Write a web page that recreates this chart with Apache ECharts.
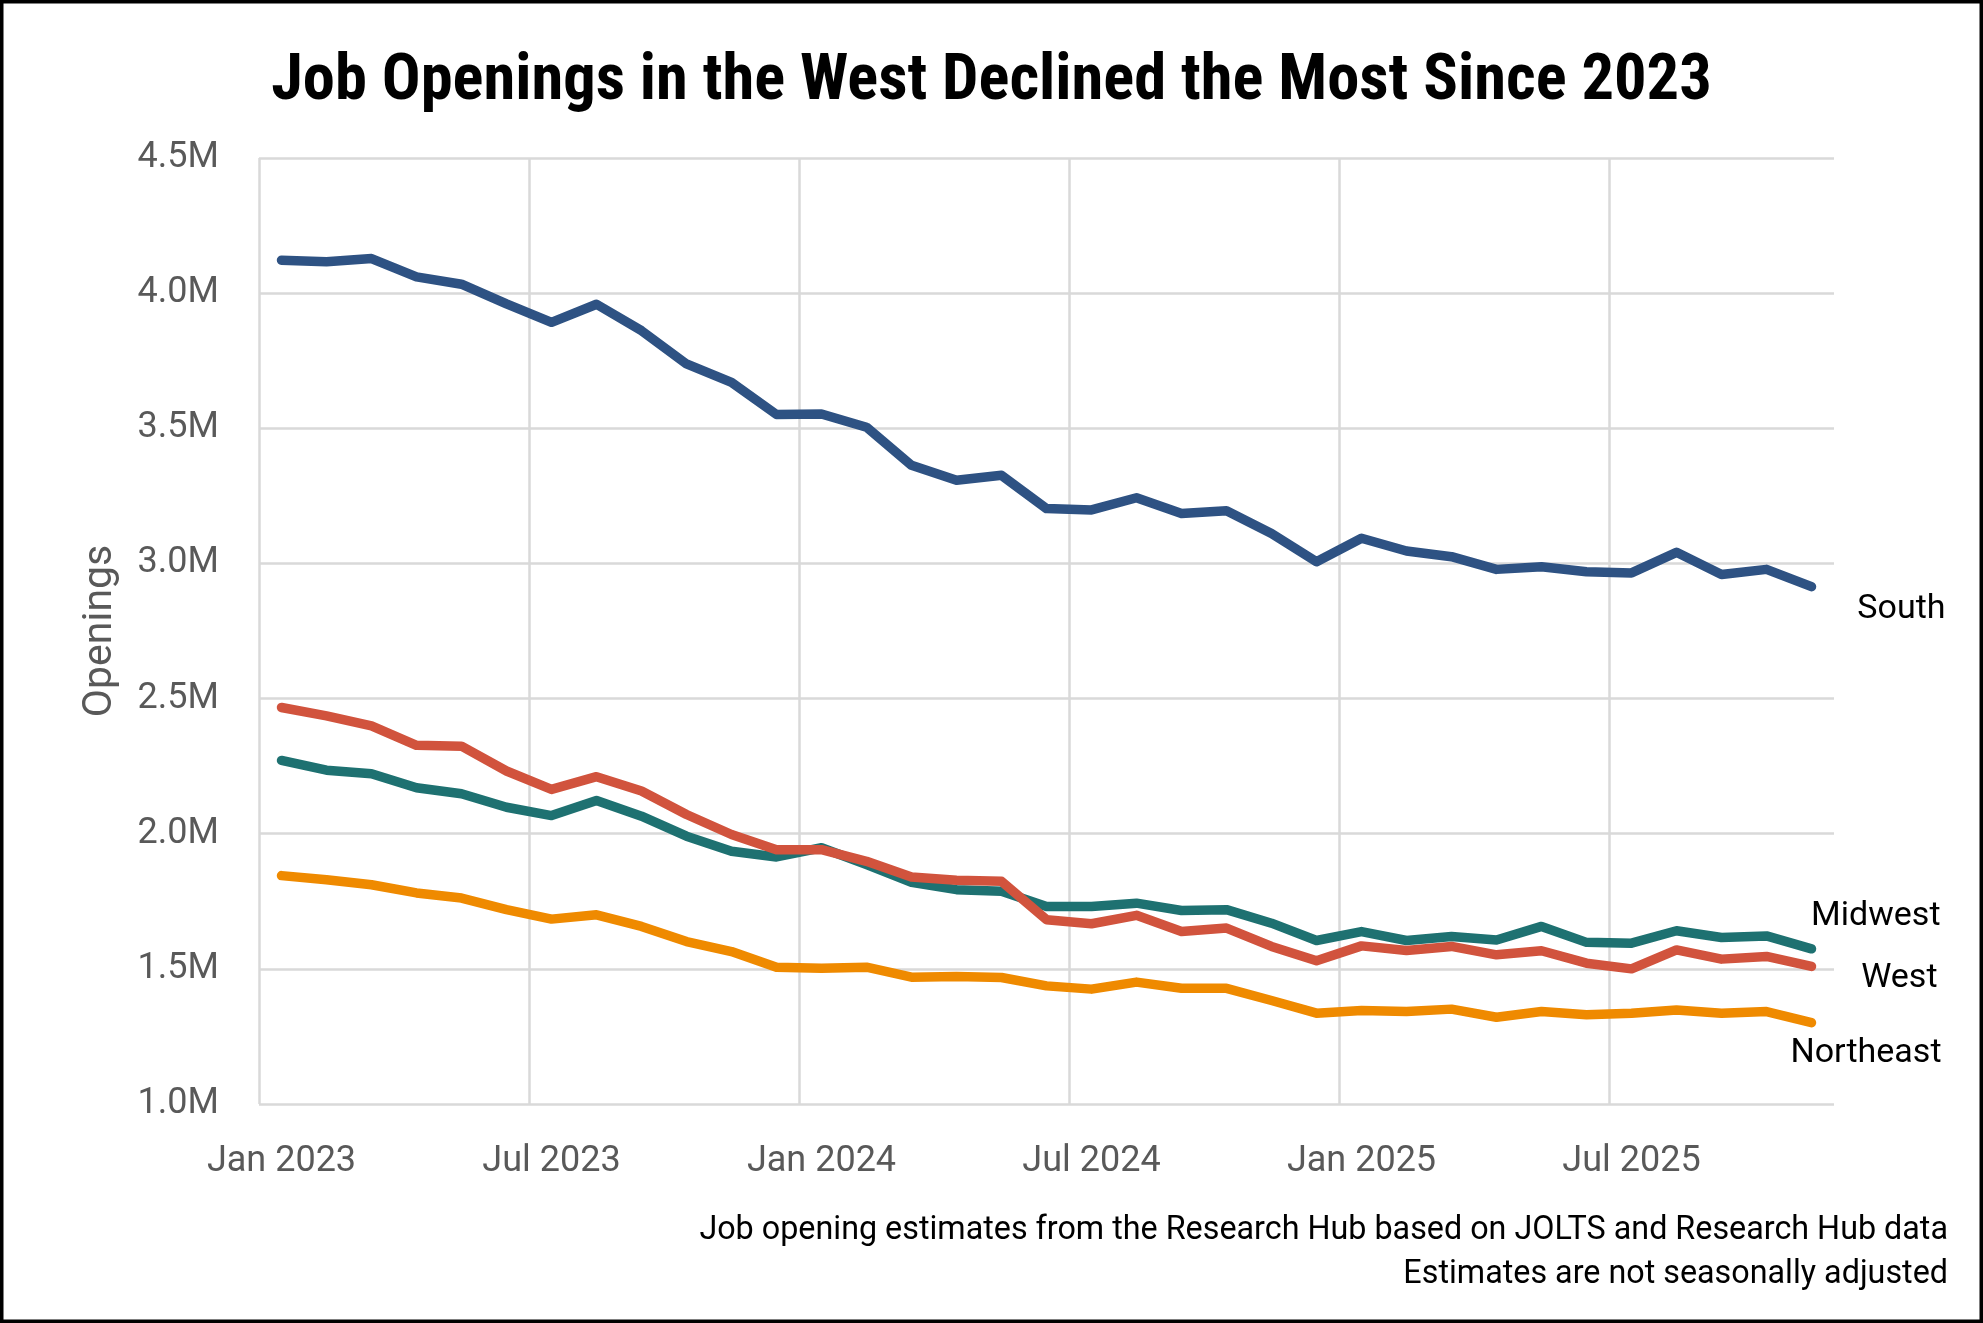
<!DOCTYPE html>
<html>
<head>
<meta charset="utf-8">
<script src="https://cdn.jsdelivr.net/npm/echarts@6/dist/echarts.min.js"></script>
<style>
  html, body { margin: 0; padding: 0; background: #fff; }
  #mainChart { width: 1983px; height: 1323px; }
</style>
</head>
<body>
<div id="mainChart"></div>
<script>
// months Jan 2023 .. Nov 2025
var months = [
  'Jan 2023','Feb 2023','Mar 2023','Apr 2023','May 2023','Jun 2023','Jul 2023','Aug 2023','Sep 2023','Oct 2023','Nov 2023','Dec 2023',
  'Jan 2024','Feb 2024','Mar 2024','Apr 2024','May 2024','Jun 2024','Jul 2024','Aug 2024','Sep 2024','Oct 2024','Nov 2024','Dec 2024',
  'Jan 2025','Feb 2025','Mar 2025','Apr 2025','May 2025','Jun 2025','Jul 2025','Aug 2025','Sep 2025','Oct 2025','Nov 2025'
];

// openings, millions
var south = [4.122, 4.116, 4.128, 4.060, 4.033, 3.960, 3.892, 3.959, 3.861, 3.738, 3.670, 3.551,
  3.553, 3.504, 3.363, 3.308, 3.326, 3.203, 3.198, 3.243, 3.185, 3.195, 3.111, 3.006,
  3.093, 3.046, 3.025, 2.978, 2.988, 2.969, 2.965, 3.041, 2.959, 2.978, 2.914];
var midwest = [2.271, 2.235, 2.222, 2.170, 2.148, 2.098, 2.067, 2.123, 2.065, 1.991, 1.935, 1.914,
  1.948, 1.886, 1.820, 1.793, 1.787, 1.731, 1.731, 1.743, 1.716, 1.719, 1.669, 1.605,
  1.638, 1.605, 1.620, 1.607, 1.657, 1.598, 1.595, 1.641, 1.616, 1.622, 1.574];
var west = [2.467, 2.436, 2.399, 2.327, 2.324, 2.232, 2.164, 2.211, 2.158, 2.071, 1.997, 1.941,
  1.941, 1.898, 1.840, 1.828, 1.824, 1.682, 1.667, 1.698, 1.638, 1.651, 1.583, 1.530,
  1.585, 1.568, 1.583, 1.552, 1.567, 1.521, 1.500, 1.570, 1.536, 1.546, 1.509];
var northeast = [1.845, 1.830, 1.811, 1.781, 1.762, 1.719, 1.684, 1.700, 1.657, 1.601, 1.564, 1.506,
  1.502, 1.506, 1.469, 1.472, 1.468, 1.437, 1.425, 1.451, 1.428, 1.428, 1.383, 1.336,
  1.346, 1.342, 1.351, 1.321, 1.342, 1.330, 1.336, 1.348, 1.336, 1.342, 1.301];

var titleText = 'Job Openings in the West Declined the Most Since 2023';
var noteLines = [
  'Job opening estimates from the Research Hub based on JOLTS and Research Hub data',
  'Estimates are not seasonally adjusted'
];

var baseFont = 'Roboto, "Noto Sans", sans-serif';
var gridColor = '#d9d9d9';

// one line series, label sits at the end of the line
function makeLine(name, data, color, labelOffset){
  return {
    name: name,
    type: 'line',
    data: data,
    symbol: 'none',
    smooth: false,
    silent: true,
    lineStyle: { color: color, width: 9.5, cap: 'round', join: 'round' },
    itemStyle: { color: color },
    endLabel: {
      show: true,
      formatter: '{a}',
      color: '#000',
      fontFamily: baseFont,
      fontSize: 34,
      align: 'right',
      verticalAlign: 'middle',
      distance: 0,
      offset: labelOffset
    }
  };
}

var chart = echarts.init(document.getElementById('mainChart'));
var option = {
  backgroundColor: '#fff',
  animation: false,
  title: {
    text: titleText,
    left: 'center',
    top: 45,
    textStyle: {
      fontFamily: '"Liberation Sans Narrow", "Roboto Condensed", Roboto, sans-serif',
      fontWeight: 'bold',
      fontSize: 64.5,
      color: '#000'
    }
  },
  grid: { left: 259, right: 149, top: 158, bottom: 219 },
  xAxis: {
    type: 'category',
    data: months,
    boundaryGap: true,
    axisLine: { show: false },
    axisTick: { show: false },
    axisLabel: {
      interval: 5,
      margin: 40,
      color: '#595959',
      fontFamily: baseFont,
      fontSize: 36
    },
    splitLine: {
      show: true,
      showMaxLine: false,
      interval: function(index){ return index % 6 === 0; },
      lineStyle: { color: gridColor, width: 2.5 }
    }
  },
  yAxis: {
    type: 'value',
    min: 1.0,
    max: 4.5,
    interval: 0.5,
    name: 'Openings',
    nameLocation: 'middle',
    nameGap: 138,
    nameRotate: 90,
    nameTextStyle: { color: '#595959', fontFamily: baseFont, fontSize: 41 },
    axisLine: { show: false },
    axisTick: { show: false },
    axisLabel: {
      margin: 40,
      color: '#595959',
      fontFamily: baseFont,
      fontSize: 36,
      formatter: function(v){ return v.toFixed(1) + 'M'; }
    },
    splitLine: { show: true, lineStyle: { color: gridColor, width: 2.5 } }
  },
  series: [
    makeLine('South', south, '#2e5283', [134, 23]),
    makeLine('Northeast', northeast, '#ef8a00', [130, 31]),
    makeLine('Midwest', midwest, '#1e7171', [129, -32]),
    makeLine('West', west, '#d1533d', [126, 12])
  ],
  graphic: [
    {
      type: 'rect',
      silent: true,
      shape: { x: 0, y: 0, width: 1983, height: 1323 },
      style: { fill: 'none', stroke: '#000', lineWidth: 7 }
    },
    {
      type: 'text',
      right: 35,
      top: 1215,
      style: { text: noteLines[0], fill: '#000', font: '32.3px ' + baseFont, textAlign: 'right' }
    },
    {
      type: 'text',
      right: 35,
      top: 1259,
      style: { text: noteLines[1], fill: '#000', font: '32.3px ' + baseFont, textAlign: 'right' }
    }
  ]
};
chart.setOption(option);
</script>
</body>
</html>
